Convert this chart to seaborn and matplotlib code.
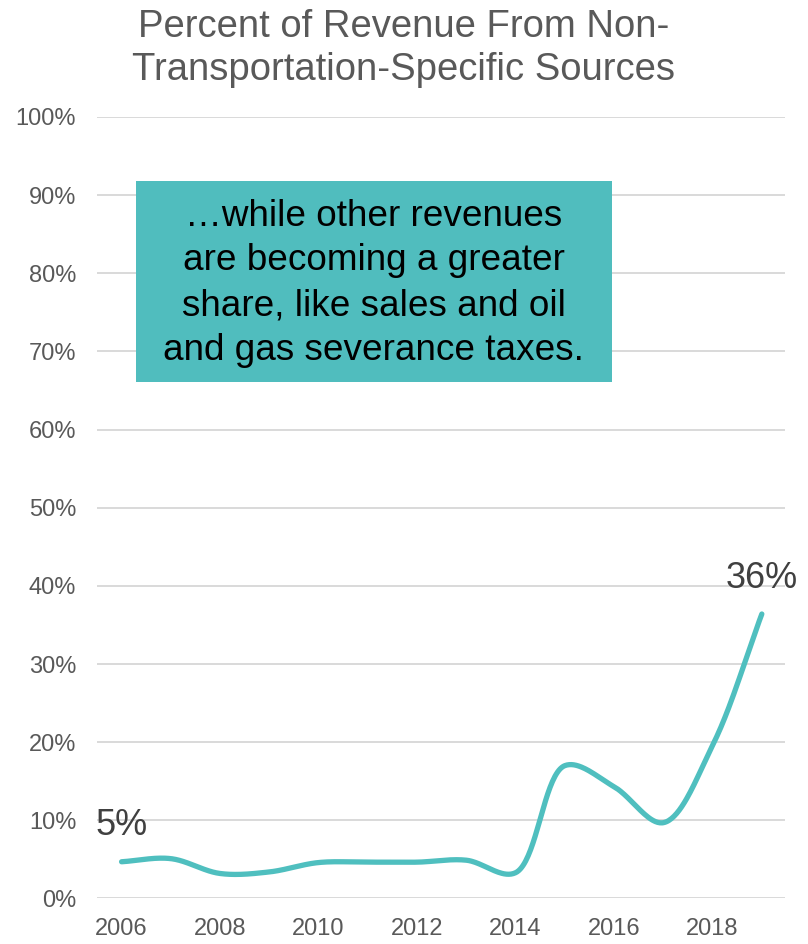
import numpy as np
import pandas as pd
import matplotlib
matplotlib.use("Agg")
import matplotlib.pyplot as plt
import seaborn as sns
from matplotlib.patches import Rectangle
from matplotlib.ticker import FuncFormatter

# Share of revenue coming from non-transportation-specific sources (percent)
years = [2006, 2007, 2008, 2009, 2010, 2011, 2012, 2013, 2014, 2015, 2016, 2017, 2018, 2019]
share = [4.7, 5.1, 3.2, 3.4, 4.6, 4.65, 4.65, 4.9, 3.3, 17.0, 14.3, 9.7, 19.6, 36.4]

x_ticks = [2006, 2008, 2010, 2012, 2014, 2016, 2018]
y_ticks = [0, 10, 20, 30, 40, 50, 60, 70, 80, 90, 100]

title = "Percent of Revenue From Non-\nTransportation-Specific Sources"
note = ("\u2026while other revenues\nare becoming a greater\n"
        "share, like sales and oil\nand gas severance taxes.")

LINE_COLOR = "#4FBFBF"
BOX_COLOR = "#50BDBE"
TEXT_GREY = "#595959"
LABEL_GREY = "#404040"
GRID_GREY = "#D9D9D9"


def smooth_curve(xs, ys, sx, sy, n=40):
    """Centripetal Catmull-Rom curve through the points, built in
    screen-proportional units so the bends look like a smoothed chart line."""
    P = np.column_stack([np.asarray(xs, float) * sx, np.asarray(ys, float) * sy])
    P = np.vstack([2 * P[0] - P[1], P, 2 * P[-1] - P[-2]])
    parts = []
    last = len(P) - 3
    for i in range(1, len(P) - 2):
        p0, p1, p2, p3 = P[i - 1:i + 3]
        t0 = 0.0
        t1 = t0 + np.linalg.norm(p1 - p0) ** 0.5
        t2 = t1 + np.linalg.norm(p2 - p1) ** 0.5
        t3 = t2 + np.linalg.norm(p3 - p2) ** 0.5
        t = np.linspace(t1, t2, n, endpoint=(i == last))[:, None]
        a1 = (t1 - t) / (t1 - t0) * p0 + (t - t0) / (t1 - t0) * p1
        a2 = (t2 - t) / (t2 - t1) * p1 + (t - t1) / (t2 - t1) * p2
        a3 = (t3 - t) / (t3 - t2) * p2 + (t - t2) / (t3 - t2) * p3
        b1 = (t2 - t) / (t2 - t0) * a1 + (t - t0) / (t2 - t0) * a2
        b2 = (t3 - t) / (t3 - t1) * a2 + (t - t1) / (t3 - t1) * a3
        parts.append((t2 - t) / (t2 - t1) * b1 + (t - t1) / (t2 - t1) * b2)
    c = np.vstack(parts)
    return c[:, 0] / sx, c[:, 1] / sy


sns.set_theme(style="white")
plt.rcParams["font.family"] = ["Liberation Sans", "DejaVu Sans"]

fig = plt.figure(figsize=(8.08, 9.44), dpi=100)
ax = fig.add_axes([0.12, 0.0482, 0.8515, 0.8279])

cx, cy = smooth_curve(years, share, sx=49.3, sy=7.82)
curve = pd.DataFrame({"year": cx, "share": cy})
sns.lineplot(data=curve, x="year", y="share", sort=False, estimator=None,
             color=LINE_COLOR, linewidth=3.8, ax=ax, zorder=3,
             solid_capstyle="round")

ax.set_xlim(2005.5, 2019.47)
ax.set_ylim(0, 100)
ax.set_xticks(x_ticks)
ax.set_yticks(y_ticks)
ax.yaxis.set_major_formatter(FuncFormatter(lambda v, _: f"{v:.0f}%"))
ax.set_xlabel("")
ax.set_ylabel("")
ax.yaxis.grid(True, color=GRID_GREY, linewidth=1.4)
ax.xaxis.grid(False)
for s in ax.spines.values():
    s.set_visible(False)
ax.tick_params(axis="both", length=0, labelsize=17, labelcolor=TEXT_GREY)
ax.tick_params(axis="y", pad=15)
ax.tick_params(axis="x", pad=14)

# Value labels on the first and last points
for i in (0, len(years) - 1):
    ax.annotate(f"{share[i]:.0f}%", (years[i], share[i]), xytext=(0, 19),
                textcoords="offset points", ha="center", va="baseline",
                fontsize=26, color=LABEL_GREY, zorder=4)

# Callout box
fig.add_artist(Rectangle((0.1683, 0.5957), 0.5887, 0.2126,
                         transform=fig.transFigure, facecolor=BOX_COLOR,
                         edgecolor="none", zorder=2))
fig.text(0.4626, 0.700, note, ha="center", va="center", fontsize=26.6,
         color="black", linespacing=1.36, zorder=3)

fig.text(0.5, 1 - 9 / 944, title, ha="center", va="top", fontsize=27.5,
         color=TEXT_GREY, linespacing=1.24)

fig.savefig("out.png", dpi=100, facecolor="white")
